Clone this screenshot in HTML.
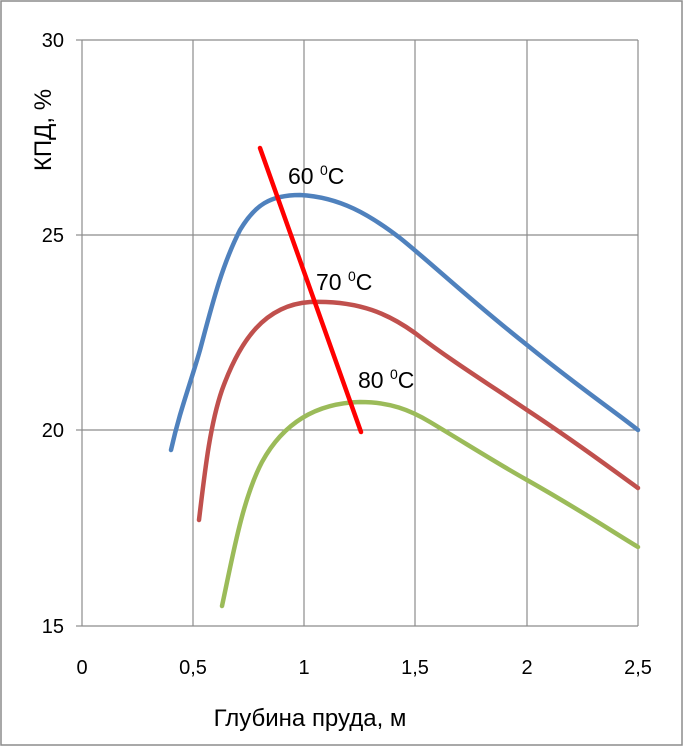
<!DOCTYPE html>
<html><head><meta charset="utf-8"><style>
html,body{margin:0;padding:0;background:#fff}
</style></head><body>
<svg width="683" height="746" xmlns="http://www.w3.org/2000/svg" font-family="Liberation Sans, DejaVu Sans, sans-serif">
<rect x="1" y="1" width="681" height="744" fill="#fff" stroke="#8c8c8c" stroke-width="1.5"/>
<g stroke="#8c8c8c" stroke-width="1.2">
<line x1="82" y1="40" x2="638" y2="40"/>
<line x1="82" y1="235" x2="638" y2="235"/>
<line x1="82" y1="430" x2="638" y2="430"/>
<line x1="82" y1="626" x2="638" y2="626"/>
<line x1="82" y1="40" x2="82" y2="626"/>
<line x1="193" y1="40" x2="193" y2="626"/>
<line x1="304" y1="40" x2="304" y2="626"/>
<line x1="415" y1="40" x2="415" y2="626"/>
<line x1="527" y1="40" x2="527" y2="626"/>
<line x1="638" y1="40" x2="638" y2="626"/>
<line x1="76" y1="40" x2="82" y2="40"/><line x1="76" y1="235" x2="82" y2="235"/>
<line x1="76" y1="430" x2="82" y2="430"/><line x1="76" y1="626" x2="82" y2="626"/>
</g>
<g font-size="20" fill="#000" text-anchor="end">
<text x="64" y="47">30</text><text x="64" y="242">25</text><text x="64" y="437">20</text><text x="64" y="633">15</text>
</g>
<g font-size="20" fill="#000" text-anchor="middle">
<text x="82" y="674">0</text><text x="193" y="674">0,5</text><text x="304" y="674">1</text><text x="415" y="674">1,5</text><text x="527" y="674">2</text><text x="638" y="674">2,5</text>
</g>
<text x="310" y="726" font-size="24" text-anchor="middle">Глубина пруда, м</text>
<text transform="translate(51,130) rotate(-90)" font-size="24" text-anchor="middle">КПД, %</text>
<g fill="none" stroke-width="4.5" stroke-linecap="round" stroke-linejoin="round">
<path stroke="#4f81bd" d="M171,450 C180,410 190,385 200,350 C212,305 222,265 240,230 C255,205 270,195 300,195 C340,197 370,215 400,238 C430,262 470,300 527,345 C580,388 610,408 638,430"/>
<path stroke="#c0504d" d="M199,520 C205,470 210,425 222,390 C240,340 265,305 310,302 C360,300 390,315 415,333 C450,360 490,385 527,410 C580,445 610,468 638,488"/>
<path stroke="#9bbb59" d="M222,606 C232,560 242,500 262,462 C285,420 320,403 360,402 C390,402 410,410 430,422 C470,446 500,465 527,480 C580,510 610,530 638,547"/>
<path stroke="#ff0000" d="M260,148 L361,432"/>
</g>
<g font-size="23" fill="#000">
<text x="288" y="184">60 <tspan font-size="14" dy="-9">0</tspan><tspan dy="9">C</tspan></text>
<text x="316" y="290">70 <tspan font-size="14" dy="-9">0</tspan><tspan dy="9">C</tspan></text>
<text x="358" y="388">80 <tspan font-size="14" dy="-9">0</tspan><tspan dy="9">C</tspan></text>
</g>
</svg>
</body></html>
